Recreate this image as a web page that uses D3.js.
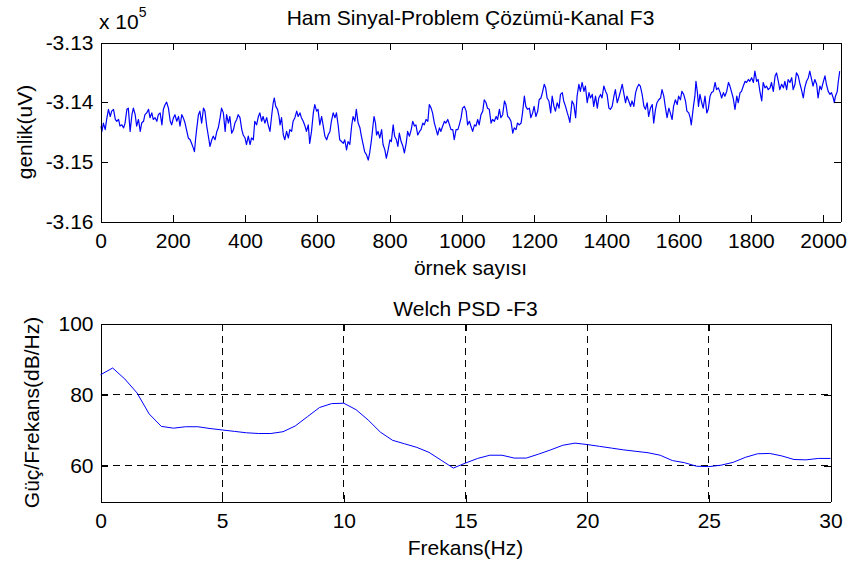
<!DOCTYPE html>
<html><head><meta charset="utf-8">
<script src="https://cdn.jsdelivr.net/npm/d3@7"></script>
<style>
body{margin:0;background:#fff}
svg{display:block}
text{font-family:"Liberation Sans",Arial,Helvetica,sans-serif;fill:#000}
</style>
</head><body>
<svg id="c" width="854" height="565"></svg>
<script>
// ---- Data: raw signal, [sample index, amplitude in uV] ----
const signal = [
[0,-314400],[4,-314490],[8,-314350],[13,-314460],[17,-314290],[22,-314120],[27,-314240],[31,-314150],[36,-314120],[41,-314290],
[45,-314320],[50,-314290],[54,-314400],[59,-314380],[64,-314430],[68,-314350],[73,-314120],[77,-314100],[82,-314490],[87,-314210],
[91,-314100],[96,-314210],[100,-314400],[105,-314290],[110,-314490],[114,-314350],[119,-314320],[123,-314210],[128,-314180],[133,-314120],
[137,-314260],[142,-314180],[146,-314290],[151,-314260],[156,-314320],[160,-314210],[165,-314180],[170,-314380],[174,-314120],[179,-314040],
[183,-314000],[188,-314100],[193,-314320],[197,-314380],[202,-314260],[206,-314210],[211,-314320],[216,-314240],[220,-314400],[225,-314210],
[229,-314260],[234,-314350],[239,-314490],[243,-314600],[248,-314630],[252,-314690],[257,-314770],[260,-314830],[263,-314630],[266,-314460],
[271,-314210],[275,-314150],[280,-314350],[285,-314100],[289,-314150],[294,-314400],[298,-314550],[303,-314740],[308,-314630],[312,-314570],
[317,-314630],[322,-314490],[326,-314430],[331,-314260],[335,-314100],[340,-314180],[345,-314490],[349,-314210],[354,-314350],[358,-314240],
[363,-314520],[368,-314460],[372,-314350],[377,-314290],[381,-314210],[386,-314260],[391,-314460],[395,-314550],[400,-314600],[404,-314710],
[409,-314570],
[414,-314710],[418,-314600],[423,-314630],[427,-314320],[432,-314380],[437,-314240],[441,-314180],[446,-314320],[450,-314240],[455,-314350],
[460,-314260],[464,-314380],[469,-314490],[474,-314210],[478,-314010],[481,-313930],[485,-314070],[490,-314120],[494,-314240],[497,-314380],
[501,-314260],[506,-314550],[510,-314630],[515,-314490],[520,-314600],[524,-314460],[529,-314490],[533,-314320],[538,-314260],[543,-314150],
[547,-314240],[552,-314180],[556,-314260],[561,-314320],[566,-314400],[570,-314490],[575,-314380],[579,-314690],[584,-314490],[589,-314180],
[593,-314040],[598,-314150],[602,-314120],[607,-314380],[612,-314240],[616,-314380],[621,-314570],[626,-314630],[630,-314550],[635,-314490],
[639,-314320],[644,-314180],[649,-314260],[653,-314180],[658,-314400],[662,-314630],[667,-314660],[672,-314690],[676,-314630],[681,-314800],
[685,-314660],[690,-314710],[695,-314400],[699,-314240],[704,-314320],[708,-314120],[713,-314350],[718,-314430],[722,-314570],[727,-314710],
[731,-314830],[736,-314880],[741,-314970],[745,-314850],[750,-314630],[754,-314400],[757,-314240],[761,-314350],[764,-314550],[768,-314490],
[773,-314600],[778,-314460],[782,-314710],[787,-314800],[791,-314940],[796,-314800],[801,-314630],[805,-314660],[810,-314380],[814,-314570],
[819,-314630],
[823,-314740],[827,-314520],[832,-314660],[837,-314740],[841,-314850],[846,-314690],[850,-314490],[855,-314570],[860,-314460],[864,-314320],
[869,-314400],[873,-314380],[878,-314550],[883,-314490],[887,-314460],[892,-314350],[896,-314380],[901,-314290],[906,-314320],[910,-314040],
[915,-314100],[919,-314180],[924,-314350],[929,-314460],[933,-314550],[938,-314430],[942,-314490],[947,-314400],[952,-314320],[956,-314350],
[961,-314290],[966,-314380],[970,-314460],[975,-314460],[979,-314630],[984,-314460],[989,-314460],[993,-314380],[998,-314260],[1002,-314100],
[1007,-314070],[1012,-314150],[1016,-314380],[1021,-314320],[1025,-314400],[1030,-314490],[1035,-314380],[1039,-314400],[1044,-314290],[1048,-314380],
[1053,-314210],[1058,-314150],[1062,-313960],[1067,-314010],[1071,-314100],[1076,-314120],[1081,-314350],[1085,-314290],[1090,-314320],[1095,-314240],
[1099,-314290],[1104,-314120],[1108,-314260],[1113,-314210],[1118,-313980],[1122,-314040],[1127,-314240],[1131,-314260],[1136,-314320],[1141,-314520],
[1145,-314430],[1150,-314460],[1154,-314350],[1159,-314380],[1164,-314350],[1168,-314180],[1173,-313900],[1177,-314070],[1182,-314120],[1187,-314100],
[1191,-314260],[1196,-314180],[1200,-314070],[1205,-314240],[1210,-314150],[1214,-313960],[1219,-313930],[1223,-313840],[1228,-313700],
[1232,-313760],[1236,-313930],[1241,-313980],[1246,-314180],[1250,-313900],[1255,-314070],[1259,-314150],[1264,-314010],[1269,-314100],[1273,-313870],
[1278,-313840],[1282,-313980],[1287,-314070],[1292,-314180],[1296,-314260],[1299,-314340],[1303,-314100],[1305,-313980],[1310,-314040],[1315,-314260],
[1319,-313900],[1324,-313700],[1328,-313820],[1333,-313670],[1338,-313820],[1342,-313730],[1347,-314010],[1352,-313840],[1356,-313930],[1361,-313870],
[1365,-314070],[1370,-313900],[1375,-314100],[1379,-313930],[1384,-313870],[1388,-313930],[1393,-313730],[1398,-313820],[1402,-313870],[1407,-314100],
[1411,-314120],[1416,-314070],[1421,-313900],[1425,-313790],[1430,-314010],[1434,-313930],[1439,-313820],[1444,-313700],[1448,-313840],[1453,-314010],
[1457,-313900],[1462,-313980],[1467,-314070],[1471,-313980],[1476,-314070],[1481,-313840],[1485,-313760],[1490,-313700],[1494,-313730],[1499,-313870],
[1504,-314070],[1508,-314120],[1513,-314010],[1517,-314240],[1522,-314100],[1527,-314040],[1531,-314350],[1536,-314120],[1540,-314010],[1545,-313960],
[1550,-313930],[1554,-313790],[1559,-313900],[1563,-314070],[1568,-314260],[1573,-314100],[1577,-314180],[1582,-314290],[1586,-314070],[1591,-313960],
[1596,-314040],[1600,-313900],[1605,-313960],[1609,-313820],[1614,-313870],[1619,-313980],[1623,-314150],[1628,-314180],[1632,-314260],[1635,-314380],
[1641,-314070],[1645,-313900],[1648,-313650],[1652,-313840],[1655,-314070],[1659,-313870],[1664,-314010],[1668,-314100],[1673,-313900],[1678,-314180],
[1682,-314120],[1687,-313900],[1691,-313840],[1696,-313820],[1701,-313670],[1705,-313790],[1710,-313760],[1715,-313840],[1719,-313930],[1724,-313840],
[1728,-313900],[1733,-313820],[1738,-313670],[1742,-313730],[1747,-313840],[1751,-313930],[1756,-314120],[1761,-313900],[1765,-314010],[1770,-313840],
[1774,-313820],[1779,-313730],[1784,-313650],[1788,-313670],[1793,-313620],[1797,-313650],[1802,-313590],[1807,-313670],[1811,-313480],[1816,-313650],
[1820,-313620],[1825,-313820],[1830,-313980],[1834,-313670],[1839,-313760],[1843,-313730],[1848,-313790],[1853,-313760],[1857,-313670],[1862,-313820],
[1867,-313560],[1871,-313510],[1876,-313650],[1880,-313790],[1885,-313700],[1890,-313760],[1894,-313650],[1899,-313790],[1903,-313620],[1908,-313670],
[1913,-313590],[1917,-313790],[1922,-313700],[1926,-313510],[1931,-313560],[1936,-313700],[1940,-313790],[1945,-313930],[1949,-313760],[1954,-313650],
[1959,-313590],[1963,-313480],[1968,-313620],[1972,-313730],[1977,-313620],[1982,-313700],[1986,-313930],[1991,-313730],[1995,-313790],[2000,-313670],
[2005,-313560],[2009,-313700],[2014,-313820],[2019,-313870],[2023,-313840],[2028,-313930],[2031,-314010],[2034,-313900],[2039,-313820],[2042,-313650],
[2046,-313480]
];

// ---- Data: Welch PSD ----
const psdFreq  = [0,0.5,1,1.5,2,2.5,3,3.5,4,4.5,5,5.5,6,6.5,7,7.5,8,8.5,9,9.5,10,10.5,11,11.5,12,12.5,13,13.5,14,14.5,15,15.5,16,16.5,17,17.5,18,18.5,19,19.5,20,20.5,21,21.5,22,22.5,23,23.5,24,24.5,25,25.5,26,26.5,27,27.5,28,28.5,29,29.5,30];
const psdPower = [85.6,87.5,84.4,80.5,74.6,71.1,70.6,71.0,71.0,70.5,70.1,69.7,69.3,69.1,69.1,69.6,71.2,73.8,76.4,77.5,77.6,75.8,72.9,69.5,67.2,66.2,65.2,63.8,61.6,59.4,60.8,62.1,63.0,63.0,62.2,62.2,63.3,64.5,65.8,66.4,66.0,65.5,65.0,64.5,64.1,63.7,63.0,61.5,60.9,59.9,59.8,60.2,61.0,62.4,63.4,63.5,62.8,61.8,61.7,62.1,62.1];

// ---- Ticks and texts ----
const topXTicks = [0,200,400,600,800,1000,1200,1400,1600,1800,2000];
const topYTicks = [-316000,-315000,-314000,-313000];
const botXTicks = [0,5,10,15,20,25,30];
const botYTicks = [60,80,100];
const topDomainX = [0,2048], topDomainY = [-316000,-313000];
const botDomainX = [0,30],   botDomainY = [50,100];
const texts = {
  topTitle: "Ham Sinyal-Problem Çözümü-Kanal F3",
  topX: "örnek sayısı",
  topY: "genlik(uV)",
  botTitle: "Welch PSD -F3",
  botX: "Frekans(Hz)",
  botY: "Güç/Frekans(dB/Hz)"
};

const svg = d3.select("#c");
const FS = 21;

function axesBox(L, R, T, B, xs, ys, xt, yt, xfmt, yfmt, grid) {
  const g = svg.append("g");
  if (grid) {
    const gg = g.append("g").attr("stroke","#000").attr("stroke-width",1).attr("stroke-dasharray","7,5").attr("shape-rendering","crispEdges");
    gg.selectAll("line.vx").data(xt.filter(d=>d>xs.domain()[0]&&d<xs.domain()[1])).join("line")
      .attr("x1",d=>xs(d)).attr("x2",d=>xs(d)).attr("y1",T).attr("y2",B);
    gg.selectAll("line.hy").data(yt.filter(d=>d>ys.domain()[0]&&d<ys.domain()[1])).join("line")
      .attr("y1",d=>ys(d)).attr("y2",d=>ys(d)).attr("x1",L).attr("x2",R);
  }
  const tl = -7;
  const ax = [
    g.append("g").attr("transform",`translate(0,${B})`).call(d3.axisBottom(xs).tickValues(xt).tickSizeInner(tl).tickSizeOuter(0).tickPadding(12).tickFormat(xfmt)),
    g.append("g").attr("transform",`translate(0,${T})`).call(d3.axisTop(xs).tickValues(xt).tickSizeInner(tl).tickSizeOuter(0).tickFormat("")),
    g.append("g").attr("transform",`translate(${L},0)`).call(d3.axisLeft(ys).tickValues(yt).tickSizeInner(tl).tickSizeOuter(0).tickPadding(7).tickFormat(yfmt)),
    g.append("g").attr("transform",`translate(${R},0)`).call(d3.axisRight(ys).tickValues(yt).tickSizeInner(tl).tickSizeOuter(0).tickFormat(""))
  ];
  ax.forEach(a => {
    a.attr("font-size",FS).attr("font-family",null);
    a.select(".domain").attr("stroke","#000").attr("stroke-width",1).attr("shape-rendering","crispEdges");
    a.selectAll(".tick line").attr("stroke","#000").attr("shape-rendering","crispEdges");
    a.selectAll(".tick text").attr("fill","#000");
  });
  return g;
}

// ---- Top plot ----
const tL = 100.5, tR = 840.5, tT = 42.5, tB = 221.5;
const xT = d3.scaleLinear().domain(topDomainX).range([tL, tR]);
const yT = d3.scaleLinear().domain(topDomainY).range([tB, tT]);
svg.append("clipPath").attr("id","clipT").append("rect").attr("x",tL).attr("y",tT).attr("width",tR-tL).attr("height",tB-tT);
svg.append("path").datum(signal)
  .attr("clip-path","url(#clipT)")
  .attr("fill","none").attr("stroke","#0000ff").attr("stroke-width",1.2).attr("stroke-linejoin","round")
  .attr("d", d3.line().x(d=>xT(d[0])).y(d=>yT(d[1])));
axesBox(tL,tR,tT,tB,xT,yT,topXTicks,topYTicks,d3.format("d"),d=>(d/1e5).toFixed(2),false);

svg.append("text").attr("x",(tL+tR)/2).attr("y",25).attr("text-anchor","middle").attr("font-size",FS).text(texts.topTitle);
const mult = svg.append("text").attr("x",99).attr("y",29).attr("font-size",FS);
mult.append("tspan").text("x 10");
mult.append("tspan").attr("dy",-12).attr("font-size",14).text("5");
svg.append("text").attr("x",(tL+tR)/2).attr("y",275).attr("text-anchor","middle").attr("font-size",FS).text(texts.topX);
svg.append("text").attr("transform",`translate(32,${(tT+tB)/2}) rotate(-90)`).attr("text-anchor","middle").attr("font-size",FS).text(texts.topY);

// ---- Bottom plot ----
const bL = 100.5, bR = 830.5, bT = 323.5, bB = 501.5;
const xB = d3.scaleLinear().domain(botDomainX).range([bL, bR]);
const yB = d3.scaleLinear().domain(botDomainY).range([bB, bT]);
axesBox(bL,bR,bT,bB,xB,yB,botXTicks,botYTicks,d3.format("d"),d3.format("d"),true);
svg.append("path").datum(psdFreq.map((f,i)=>[f,psdPower[i]]))
  .attr("fill","none").attr("stroke","#0000ff").attr("stroke-width",1)
  .attr("d", d3.line().x(d=>xB(d[0])).y(d=>yB(d[1])));

svg.append("text").attr("x",(bL+bR)/2).attr("y",316).attr("text-anchor","middle").attr("font-size",FS).text(texts.botTitle);
svg.append("text").attr("x",(bL+bR)/2).attr("y",555).attr("text-anchor","middle").attr("font-size",FS).text(texts.botX);
svg.append("text").attr("transform",`translate(39,${(bT+bB)/2}) rotate(-90)`).attr("text-anchor","middle").attr("font-size",FS).text(texts.botY);
</script>
</body></html>
